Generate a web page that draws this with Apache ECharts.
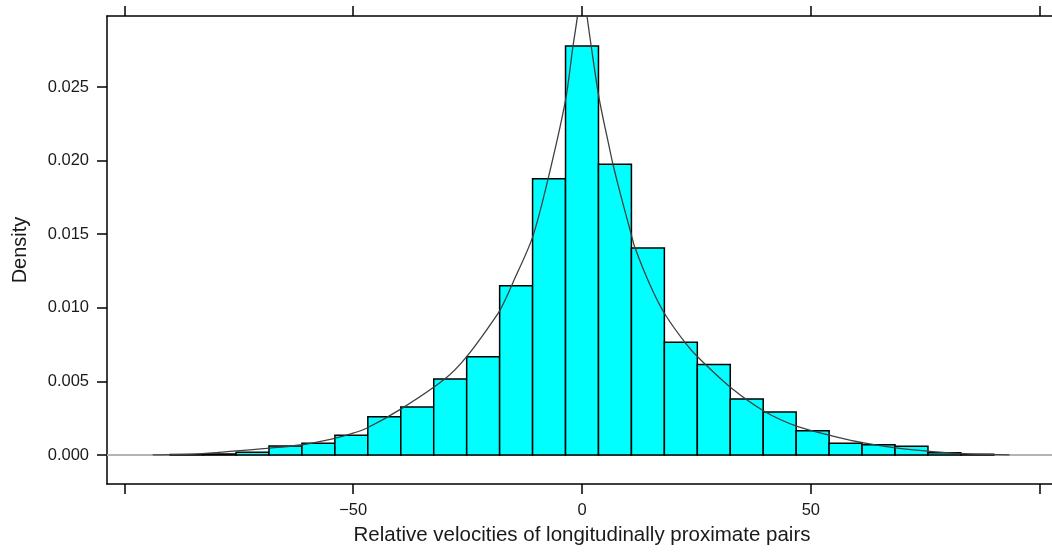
<!DOCTYPE html>
<html>
<head>
<meta charset="utf-8">
<script src="https://cdn.jsdelivr.net/npm/echarts@6/dist/echarts.min.js"></script>
<style>html,body{margin:0;padding:0;background:#fff;overflow:hidden;}#c{width:1057px;height:555px;}</style>
</head>
<body>
<div id="c"></div>
<script>
// Histogram bins (centres) and densities
const binCenters = [-86.4, -79.2, -72, -64.8, -57.6, -50.4, -43.2, -36, -28.8, -21.6, -14.4, -7.2, 0, 7.2, 14.4, 21.6, 28.8, 36, 43.2, 50.4, 57.6, 64.8, 72, 79.2, 86.4];
const binDensity = [0.00003, 0.00006, 0.00018, 0.00061, 0.00079, 0.00134, 0.0026, 0.00326, 0.00516, 0.00668, 0.0115, 0.01877, 0.02779, 0.01975, 0.01406, 0.00766, 0.00614, 0.0038, 0.00292, 0.00165, 0.00079, 0.0007, 0.0006, 0.00016, 0.00005];
const binWidth = 7.2;
// Fitted density curve
const curveX = [-93.8, -84, -76.2, -69, -61.6, -54.5, -50.7, -47.2, -39.7, -30, -25.2, -18.3, -16.8, -15.1, -10.8, -7.4, -3.6, -2.0, -1.0, 0, 1.1, 2.0, 3.7, 6.1, 6.8, 8.5, 10.7, 11.5, 14.8, 18, 22.7, 25.8, 32.7, 40, 47.2, 54.8, 62.2, 69.4, 76.6, 84, 93.4];
const curveY = [0.00001, 0.00008, 0.00026, 0.00045, 0.00068, 0.0011, 0.00142, 0.0018, 0.0031, 0.00516, 0.00668, 0.00964, 0.01053, 0.0117, 0.0148, 0.01877, 0.0241, 0.0277, 0.0298, 0.0325, 0.0298, 0.0278, 0.0243, 0.0207, 0.0197, 0.0176, 0.01506, 0.01415, 0.0116, 0.00963, 0.00757, 0.0065, 0.00453, 0.00294, 0.00192, 0.00129, 0.00079, 0.00045, 0.00023, 0.00007, 0.00001];
const xTicks = [-100, -50, 0, 50, 100];
const xLabels = [-50, 0, 50];
const yTicks = [0, 0.005, 0.010, 0.015, 0.020, 0.025];
const xRange = [-103.8, 103.8];
const yRange = [-0.00197, 0.02982];

const chart = echarts.init(document.getElementById('c'), null, {renderer: 'canvas'});
const font = 'Liberation Sans, Arial, sans-serif';
const txt = '#1a1a1a';
const axisLine = {show: true, onZero: false, lineStyle: {color: '#000', width: 1.5}};
const option = {
  animation: false,
  grid: {left: 107, top: 16, right: 0, bottom: 71, show: false},
  xAxis: [{
    type: 'value', min: xRange[0], max: xRange[1], position: 'bottom',
    axisLine: axisLine,
    axisTick: {show: true, inside: false, length: 10, customValues: xTicks, lineStyle: {color: '#000', width: 1.5}},
    axisLabel: {show: true, customValues: xLabels, margin: 18, fontSize: 16.5, fontFamily: font, color: txt,
      formatter: v => (v < 0 ? '\u2212' + Math.abs(v) : String(v))},
    splitLine: {show: false},
    name: 'Relative velocities of longitudinally proximate pairs', nameLocation: 'middle', nameGap: 41,
    nameTextStyle: {fontSize: 20.5, fontFamily: font, color: txt}
  }, {
    type: 'value', min: xRange[0], max: xRange[1], position: 'top',
    axisLine: axisLine,
    axisTick: {show: true, inside: false, length: 10, customValues: xTicks, lineStyle: {color: '#000', width: 1.5}},
    axisLabel: {show: false}, splitLine: {show: false}
  }],
  yAxis: [{
    type: 'value', min: yRange[0], max: yRange[1],
    axisLine: axisLine,
    axisTick: {show: true, inside: false, length: 10, customValues: yTicks, lineStyle: {color: '#000', width: 1.5}},
    axisLabel: {show: true, customValues: yTicks, margin: 18, fontSize: 16.5, fontFamily: font, color: txt,
      formatter: v => v.toFixed(3)},
    splitLine: {show: false},
    name: 'Density', nameLocation: 'middle', nameGap: 77, nameRotate: 90,
    nameTextStyle: {fontSize: 20, fontFamily: font, color: txt}
  }],
  series: [
    {
      type: 'line', data: [[xRange[0], 0], [xRange[1], 0]], symbol: 'none', z: 1,
      lineStyle: {color: '#b4b4b4', width: 2}
    },
    {
      type: 'custom', z: 2, clip: true,
      data: binCenters.map((c, i) => [c, binDensity[i]]),
      renderItem: function (params, api) {
        const c = api.value(0), d = api.value(1);
        const p0 = api.coord([c - binWidth / 2, 0]);
        const p1 = api.coord([c + binWidth / 2, d]);
        return {
          type: 'rect',
          shape: {x: p0[0], y: p1[1], width: p1[0] - p0[0], height: p0[1] - p1[1]},
          style: {fill: '#00ffff', stroke: '#000', lineWidth: 1.5}
        };
      }
    },
    {
      type: 'line', z: 3, clip: true, smooth: 0.3, symbol: 'none',
      data: curveX.map((x, i) => [x, curveY[i]]),
      lineStyle: {color: '#404040', width: 1.3}
    }
  ]
};
chart.setOption(option);
</script>
</body>
</html>
